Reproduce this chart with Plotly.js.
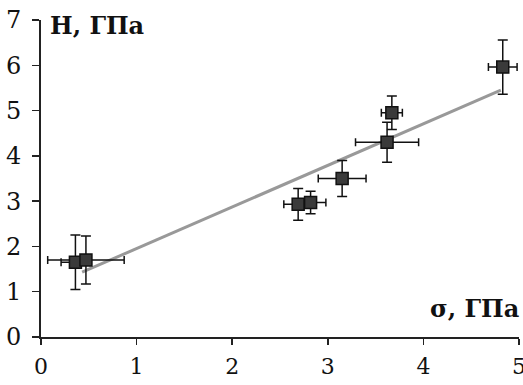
<!DOCTYPE html>
<html><head><meta charset="utf-8">
<script src="https://cdn.plot.ly/plotly-3.0.1.min.js"></script>
<style>html,body{margin:0;padding:0;background:#fff}#c{width:523px;height:385px}</style>
</head><body><div id="c"></div>
<script>
const sigma = [0.36, 0.47, 2.69, 2.82, 3.15, 3.62, 3.67, 4.83];
const hard  = [1.65, 1.70, 2.93, 2.97, 3.50, 4.30, 4.95, 5.96];
const sigmaErr = [0.15, 0.40, 0.15, 0.16, 0.25, 0.33, 0.11, 0.15];
const hardErr  = [0.60, 0.53, 0.35, 0.25, 0.40, 0.44, 0.37, 0.60];
const trendX = [0.43, 4.81];
const trendY = [1.43, 5.45];
const xTicks = [0, 1, 2, 3, 4, 5];
const yTicks = [0, 1, 2, 3, 4, 5, 6, 7];

const FAM = 'DejaVu Serif';

const data = [
  {x: trendX, y: trendY, mode: 'lines', type: 'scatter',
   line: {color: '#999999', width: 3}, hoverinfo: 'skip'},
  {x: sigma, y: hard, mode: 'markers', type: 'scatter',
   marker: {symbol: 'square', size: 12, color: '#3a3a3a', line: {color: '#111', width: 1.5}},
   error_x: {type: 'data', array: sigmaErr, visible: true, color: '#111', thickness: 1.5, width: 4},
   error_y: {type: 'data', array: hardErr, visible: true, color: '#111', thickness: 1.5, width: 5}}
];

const layout = {
  width: 523, height: 385,
  margin: {l: 41, r: 4, t: 20, b: 48},
  paper_bgcolor: '#fff', plot_bgcolor: '#fff',
  showlegend: false,
  font: {family: FAM, color: '#111', size: 22},
  xaxis: {range: [0, 5], tickvals: xTicks, ticktext: xTicks.map(String),
    showgrid: false, zeroline: false, showline: true, linecolor: '#222', linewidth: 2,
    ticks: 'outside', ticklen: 6, tickcolor: '#222', tickwidth: 1.5,
    tickfont: {family: FAM, color: '#111', size: 22},
    ticklabelstandoff: 3, ticklabeloverflow: 'allow'},
  yaxis: {range: [0, 7], tickvals: yTicks, ticktext: yTicks.map(String),
    showgrid: false, zeroline: false, showline: true, linecolor: '#222', linewidth: 2,
    ticks: 'outside', ticklen: 7, tickcolor: '#222', tickwidth: 1.5,
    tickfont: {family: FAM, color: '#111', size: 24},
    ticklabelstandoff: 6, ticklabeloverflow: 'allow'},
  annotations: [
    {text: '<b>H, ГПа</b>', xref: 'paper', yref: 'paper', x: 0.015, y: 1.0,
     xanchor: 'left', yanchor: 'middle', yshift: -5, showarrow: false,
     font: {family: FAM, size: 24, color: '#111'}},
    {text: '<b>σ, ГПа</b>', xref: 'paper', yref: 'paper', x: 1.0, y: 0.0,
     xanchor: 'right', yanchor: 'middle', yshift: 29, xshift: 2, showarrow: false,
     font: {family: FAM, size: 24, color: '#111'}}
  ]
};

Plotly.newPlot('c', data, layout, {displayModeBar: false, staticPlot: true});
</script></body></html>
